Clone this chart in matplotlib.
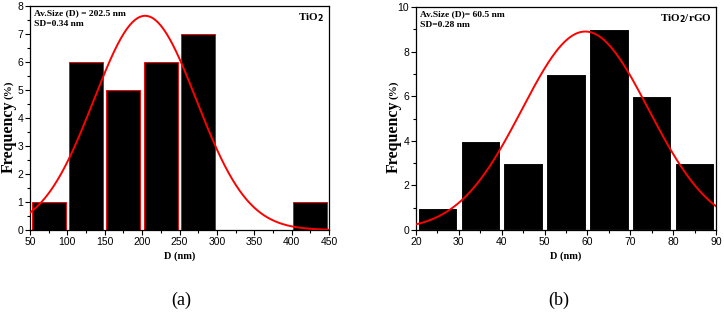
import numpy as np
import matplotlib
matplotlib.use("Agg")
import matplotlib.pyplot as plt
from matplotlib.ticker import MultipleLocator

# ---- data (a) TiO2 ----
a_bin_left = [50, 100, 150, 200, 250, 300, 350, 400]
a_freq = [1, 6, 5, 6, 7, 0, 0, 1]
a_fit_amp, a_fit_center, a_fit_sigma = 7.65, 204.0, 68.7

# ---- data (b) TiO2/rGO ----
b_bin_left = [20, 30, 40, 50, 60, 70, 80]
b_freq = [1, 4, 3, 7, 9, 6, 3]
b_fit_amp, b_fit_center, b_fit_sigma = 8.9, 59.5, 14.8

serif = "Liberation Serif"
sans = "Liberation Sans"

fig = plt.figure(figsize=(7.24, 3.13), dpi=100)
axA = fig.add_axes([30/724, 1-230/313, 299/724, 224/313])
axB = fig.add_axes([416/724, 1-230/313, 300/724, 223/313])

def style(ax, xlim, ylim, xmaj, xmin, ymaj, ymin, ylab_x):
    ax.set_xlim(*xlim)
    ax.set_ylim(*ylim)
    ax.xaxis.set_major_locator(MultipleLocator(xmaj))
    ax.xaxis.set_minor_locator(MultipleLocator(xmin))
    ax.yaxis.set_major_locator(MultipleLocator(ymaj))
    ax.yaxis.set_minor_locator(MultipleLocator(ymin))
    ax.tick_params(which="both", direction="out", top=False, right=False, width=0.8)
    ax.tick_params(which="major", length=3.5, labelsize=7.5, pad=1.5)
    ax.tick_params(which="minor", length=2)
    for lab in ax.get_xticklabels() + ax.get_yticklabels():
        lab.set_fontfamily(sans)
    for s in ax.spines.values():
        s.set_linewidth(0.9)
    ax.set_xlabel("D (nm)", fontfamily=serif, fontweight="bold", fontsize=7.5, labelpad=3)
    fig.text(ylab_x/724, 1-173/313, "Frequency", rotation=90, ha="center", va="bottom",
             fontfamily=serif, fontweight="bold", fontsize=11.5)
    fig.text(ylab_x/724, 1-99/313, "(%)", rotation=90, ha="center", va="bottom",
             fontfamily=serif, fontweight="bold", fontsize=8)

# (a)
bw = 50
axA.bar(np.array(a_bin_left) + bw/2, a_freq, width=bw*0.91, color="black",
        edgecolor="red", linewidth=0.7, zorder=2)
xa = np.linspace(50, 450, 400)
axA.plot(xa, a_fit_amp*np.exp(-(xa-a_fit_center)**2/(2*a_fit_sigma**2)), color="red", lw=1.4, zorder=3)
style(axA, (50, 450), (0, 8), 50, 25, 1, 0.5, 9)
axA.text(0.015, 0.985, "Av.Size (D) = 202.5 nm\nSD=0.34 nm", transform=axA.transAxes, va="top", ha="left",
         fontfamily=serif, fontweight="bold", fontsize=6.8, linespacing=1.5)
axA.text(0.985, 0.975, "TiO$_\\mathbf{2}$", transform=axA.transAxes, va="top", ha="right",
         fontfamily=serif, fontweight="bold", fontsize=8)

# (b)
bw = 10
axB.bar(np.array(b_bin_left) + bw/2, b_freq, width=bw*0.92, color="black",
        edgecolor="white", linewidth=0.8, zorder=2)
xb = np.linspace(20, 90, 400)
axB.plot(xb, b_fit_amp*np.exp(-(xb-b_fit_center)**2/(2*b_fit_sigma**2)), color="red", lw=1.4, zorder=3)
style(axB, (20, 90), (0, 10), 10, 5, 2, 1, 394)
axB.text(0.015, 0.985, "Av.Size (D)= 60.5 nm\nSD=0.28 nm", transform=axB.transAxes, va="top", ha="left",
         fontfamily=serif, fontweight="bold", fontsize=6.8, linespacing=1.5)
axB.text(0.985, 0.975, "TiO$_\\mathbf{2}$/rGO", transform=axB.transAxes, va="top", ha="right",
         fontfamily=serif, fontweight="bold", fontsize=8)

fig.text(181/724, 1-300/313, "(a)", ha="center", va="center", fontfamily=serif, fontsize=13)
fig.text(559/724, 1-300/313, "(b)", ha="center", va="center", fontfamily=serif, fontsize=13)

fig.savefig("out.png", dpi=100)
